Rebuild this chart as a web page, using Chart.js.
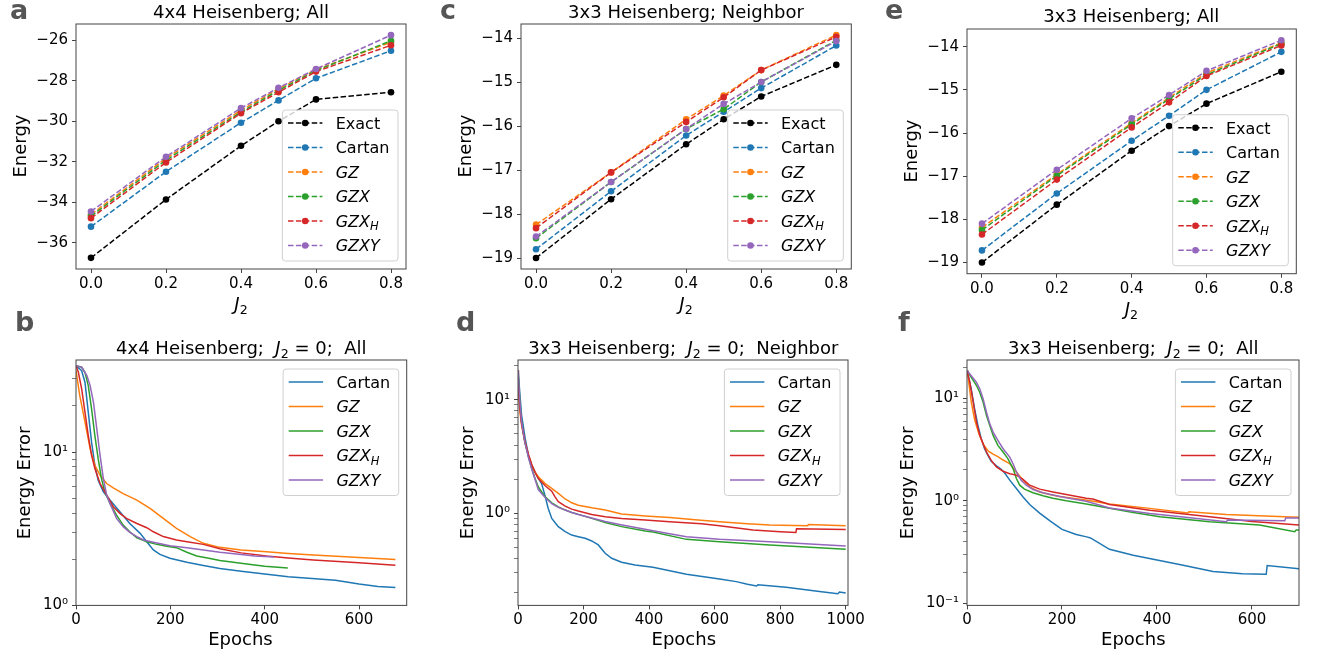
<!DOCTYPE html>
<html>
<head>
<meta charset="utf-8">
<script src="https://cdn.jsdelivr.net/npm/chart.js@4.4.1/dist/chart.umd.min.js"></script>
<style>
  html,body{margin:0;padding:0;background:#fff;}
  body{width:1319px;height:659px;position:relative;overflow:hidden;font-family:"DejaVu Sans",sans-serif;}
  canvas{position:absolute;z-index:1;}
  .t{position:absolute;white-space:nowrap;color:#000;line-height:1;z-index:2;}
  .sub{font-size:0.7em;position:relative;top:4px;}
  .lett{font-weight:bold;color:#555;}
</style>
</head>
<body>
<script>
// ---------------- DATA ----------------
const J2 = [0.0, 0.2, 0.4, 0.5, 0.6, 0.8];
const J2Ticks = [0.0, 0.2, 0.4, 0.6, 0.8];
const topNames = ['Exact', 'Cartan', 'GZ', 'GZX', 'GZX_H', 'GZXY'];
const botNames = ['Cartan', 'GZ', 'GZX', 'GZX_H', 'GZXY'];

// (a) 4x4 Heisenberg; All
const aExact  = [-36.74, -33.86, -31.21, -30.00, -28.92, -28.57];
const aCartan = [-35.20, -32.49, -30.07, -28.97, -27.88, -26.52];
const aGZ     = [-34.60, -31.83, -29.46, -28.40, -27.45, -26.10];
const aGZX    = [-34.68, -31.92, -29.54, -28.48, -27.50, -26.03];
const aGZXH   = [-34.78, -32.03, -29.60, -28.57, -27.55, -26.25];
const aGZXY   = [-34.45, -31.75, -29.35, -28.35, -27.42, -25.75];
const aYTicks = [-36, -34, -32, -30, -28, -26];

// (c) 3x3 Heisenberg; Neighbor
const cExact  = [-19.00, -17.66, -16.41, -15.84, -15.32, -14.60];
const cCartan = [-18.80, -17.48, -16.21, -15.67, -15.13, -14.16];
const cGZ     = [-18.24, -17.05, -15.84, -15.30, -14.72, -13.92];
const cGZX    = [-18.55, -17.27, -16.06, -15.61, -14.99, -14.04];
const cGZXH   = [-18.32, -17.05, -15.90, -15.34, -14.72, -13.96];
const cGZXY   = [-18.51, -17.27, -16.06, -15.49, -14.99, -14.06];
const cYTicks = [-19, -18, -17, -16, -15, -14];

// (e) 3x3 Heisenberg; All
const eExact  = [-19.00, -17.66, -16.41, -15.84, -15.32, -14.58];
const eCartan = [-18.72, -17.40, -16.18, -15.60, -15.00, -14.12];
const eGZ     = [-18.19, -16.96, -15.77, -15.18, -14.61, -13.91];
const eGZX    = [-18.25, -16.99, -15.80, -15.21, -14.65, -13.93];
const eGZXH   = [-18.35, -17.08, -15.87, -15.29, -14.68, -13.97];
const eGZXY   = [-18.10, -16.85, -15.66, -15.12, -14.56, -13.85];
const eYTicks = [-19, -18, -17, -16, -15, -14];

// (b) 4x4 Heisenberg; J2=0; All  (epochs / energy error)
const bCartanEp  = [0,12,19,26,33,40,47,58,72,93,114,136,150,164,178,199,235,270,305,350,400,450,500,550,600,640,677];
const bCartanErr = [36.5,33.9,28.5,18.2,11.6,8.2,6.55,5.5,4.86,4.08,3.42,2.95,2.6,2.3,2.15,2.03,1.91,1.82,1.74,1.67,1.6,1.54,1.5,1.46,1.38,1.33,1.31];
const bGZEp      = [0,8,19,30,40,51,65,79,100,129,157,185,213,242,270,305,350,404,450,503,600,677];
const bGZErr     = [33.9,23.3,15.7,10.5,8.2,7.05,6.23,5.84,5.36,4.86,4.29,3.69,3.18,2.81,2.54,2.39,2.3,2.24,2.18,2.13,2.05,1.99];
const bGZXEp     = [0,12,19,26,33,40,47,54,61,72,86,100,114,129,150,171,192,213,235,256,284,305,362,400,449];
const bGZXErr    = [36.5,35.7,33.1,27.1,19.1,12.8,9.05,6.71,5.5,4.62,3.88,3.34,3.02,2.76,2.6,2.5,2.43,2.38,2.22,2.1,2.02,1.96,1.86,1.8,1.75];
const bGZXHEp    = [0,5,12,19,26,33,40,51,65,79,93,107,129,150,164,185,213,242,270,305,350,404,450,503,600,677];
const bGZXHErr   = [36.5,33.1,25.8,18.2,12.8,9.5,7.8,6.23,5.23,4.4,3.98,3.69,3.42,3.21,3.02,2.81,2.67,2.58,2.5,2.34,2.2,2.1,2.04,1.98,1.9,1.83];
const bGZXYEp    = [0,12,23,30,37,44,51,58,65,75,86,100,114,129,143,164,199,235,270,305,350,379,420];
const bGZXYErr   = [36.5,35.7,31.5,27.1,21.1,14.2,9.5,6.71,5.23,4.4,3.69,3.26,2.99,2.81,2.67,2.58,2.45,2.38,2.3,2.22,2.15,2.1,2.07];
const bXTicks = [0, 200, 400, 600];
const bLogTicks = [1,2,3,4,5,6,7,8,9,10,20,30];

// (d) 3x3 Heisenberg; J2=0; Neighbor
const dCartanEp  = [0,1,6,11,22,32,42,52,62,72,82,92,103,123,144,164,184,205,225,245,266,286,316,357,412,514,615,666,700,728,732,818,920,976,981,1000];
const dCartanErr = [18.1,17.5,10.9,7.29,4.55,3.25,2.65,2.32,2.03,1.83,1.45,1.11,0.904,0.764,0.69,0.645,0.624,0.604,0.572,0.528,0.446,0.403,0.372,0.352,0.336,0.292,0.265,0.251,0.238,0.23,0.236,0.224,0.205,0.196,0.203,0.199];
const dGZEp      = [0,1,6,11,21,32,42,52,62,83,103,123,144,164,184,225,266,316,388,463,540,615,700,768,884,886,1000];
const dGZErr     = [18.1,11.7,7.8,5.96,4.25,3.25,2.65,2.32,2.1,1.83,1.66,1.5,1.34,1.24,1.18,1.12,1.07,0.99,0.95,0.92,0.88,0.845,0.81,0.789,0.78,0.8,0.78];
const dGZXEp     = [0,1,6,11,21,32,42,52,62,72,83,103,123,144,164,184,225,266,316,388,412,514,615,768,1000];
const dGZXErr    = [18.1,16.3,9.55,6.37,4.25,3.14,2.48,2.03,1.71,1.55,1.4,1.24,1.14,1.07,1.02,0.98,0.904,0.83,0.765,0.7,0.685,0.591,0.563,0.527,0.483];
const dGZXHEp    = [0,1,6,11,21,32,42,52,62,83,103,113,123,144,164,184,225,266,316,388,463,560,615,717,800,848,850,1000];
const dGZXHErr   = [18.1,13.4,8.34,6.16,4.31,3.29,2.69,2.29,2.03,1.75,1.57,1.4,1.27,1.16,1.09,1.05,0.98,0.935,0.9,0.874,0.845,0.81,0.78,0.714,0.69,0.68,0.733,0.72];
const dGZXYEp    = [0,1,6,11,21,32,42,52,62,72,83,103,123,144,164,184,225,266,310,412,514,615,768,1000];
const dGZXYErr   = [18.1,16.0,9.4,6.3,4.2,3.1,2.45,2.0,1.62,1.5,1.38,1.22,1.13,1.07,1.02,0.98,0.91,0.85,0.8,0.705,0.624,0.591,0.563,0.516];
const dXTicks = [0, 200, 400, 600, 800, 1000];
const dLogTicks = [0.2,0.3,0.4,0.5,0.6,0.7,0.8,0.9,1,2,3,4,5,6,7,8,9,10,20];

// (f) 3x3 Heisenberg; J2=0; All
const fCartanEp  = [0,2,9,16,23,30,37,44,51,62,72,79,90,104,118,132,153,174,200,230,252,260,300,350,400,450,518,580,630,632,700];
const fCartanErr = [18.6,17.2,12.3,7.88,5.43,4.03,3.22,2.77,2.43,2.19,2.03,1.88,1.59,1.32,1.09,0.92,0.76,0.64,0.527,0.47,0.445,0.435,0.337,0.295,0.265,0.238,0.205,0.195,0.192,0.234,0.217];
const fGZEp      = [0,2,9,16,25,35,45,55,65,76,90,104,118,132,153,174,195,230,260,300,385,465,467,546,669,700];
const fGZErr     = [18.6,16.6,9.15,6.2,4.5,3.5,3.05,2.85,2.7,2.5,2.3,1.91,1.59,1.37,1.22,1.15,1.1,1.05,1.0,0.93,0.844,0.76,0.782,0.736,0.699,0.69];
const fGZXEp     = [0,9,20,27,34,41,48,55,65,76,86,97,104,111,121,139,160,181,209,251,300,350,406,511,616,690,693,700];
const fGZXErr    = [18.6,16.0,13.3,11.4,9.15,6.79,5.43,4.34,3.47,2.99,2.58,2.06,1.65,1.42,1.3,1.2,1.12,1.06,1.0,0.93,0.845,0.77,0.7,0.625,0.58,0.5,0.52,0.52];
const fGZXHEp    = [0,6,13,20,27,34,41,51,62,76,90,104,118,132,153,181,209,251,265,300,385,511,600,700];
const fGZXHErr   = [18.6,14.3,9.15,5.85,4.34,3.6,2.99,2.48,2.14,1.94,1.84,1.78,1.62,1.42,1.3,1.22,1.15,1.06,1.04,0.92,0.81,0.7,0.63,0.58];
const fGZXYEp    = [0,9,20,27,34,41,48,55,65,76,90,97,104,114,125,139,160,181,209,251,300,385,450,546,549,669,671,700];
const fGZXYErr   = [18.6,16.6,14.3,12.3,9.86,7.31,5.63,4.68,3.88,3.22,2.67,2.3,1.91,1.59,1.42,1.29,1.2,1.14,1.07,0.99,0.85,0.753,0.7,0.625,0.65,0.64,0.68,0.68];
const fXTicks = [0, 200, 400, 600];
const fLogTicks = [0.1,0.2,0.3,0.4,0.5,0.6,0.7,0.8,0.9,1,2,3,4,5,6,7,8,9,10,20];

// ---------------- STYLE ----------------
const COLORS = {Exact:'#000000', Cartan:'#1f77b4', GZ:'#ff7f0e', GZX:'#2ca02c', GZX_H:'#d62728', GZXY:'#9467bd'};
const FRAME = '#444444';
const DASH = [5.5, 2.4];
const FONT = '"DejaVu Sans", sans-serif';
Chart.defaults.font.family = FONT;
Chart.defaults.color = '#000';

// Axes frame (all four spines)
const mplFrame = {
  id: 'mplFrame',
  afterDatasetsDraw(chart) {
    const {ctx, chartArea: a} = chart;
    ctx.save();
    ctx.strokeStyle = FRAME; ctx.lineWidth = 1;
    ctx.strokeRect(a.left, a.top, a.right - a.left, a.bottom - a.top);
    ctx.restore();
  }
};

// matplotlib-like legend inside the axes
const mplLegend = {
  id: 'mplLegend',
  afterDraw(chart, args, opts) {
    const {ctx, chartArea: a} = chart;
    const ds = chart.data.datasets;
    const n = ds.length;
    const W = 115.6, H = 13 + (n - 1) * 24.5 + 15.5;
    const x0 = a.right - 8 - W;
    const y0 = opts.corner === 'lower' ? a.bottom - 8 - H : a.top + 9;
    ctx.save();
    ctx.beginPath();
    ctx.roundRect(x0, y0, W, H, 3);
    ctx.fillStyle = 'rgba(255,255,255,0.8)'; ctx.fill();
    ctx.strokeStyle = '#d0d0d0'; ctx.lineWidth = 1; ctx.stroke();
    ds.forEach((d, i) => {
      const y = y0 + 13 + i * 24.5;
      ctx.strokeStyle = d.borderColor; ctx.lineWidth = 1.5;
      ctx.setLineDash(d.borderDash || []);
      ctx.beginPath(); ctx.moveTo(x0 + 5.6, y); ctx.lineTo(x0 + 40, y); ctx.stroke();
      ctx.setLineDash([]);
      if (d.pointRadius > 0) {
        ctx.fillStyle = d.borderColor; ctx.beginPath();
        ctx.arc(x0 + 22.8, y, d.pointRadius, 0, Math.PI * 2); ctx.fill();
      }
      const parts = d.label.split('_');
      const italic = d.label.startsWith('G');
      ctx.fillStyle = '#000'; ctx.textBaseline = 'alphabetic'; ctx.textAlign = 'left';
      ctx.font = (italic ? 'italic ' : '') + '16px ' + FONT;
      const tx = x0 + 53.3, by = y + 5.8;
      ctx.fillText(parts[0], tx, by);
      if (parts[1]) {
        const w = ctx.measureText(parts[0]).width;
        ctx.font = 'italic 11.5px ' + FONT;
        ctx.fillText(parts[1], tx + w, by + 3.5);
      }
    });
    ctx.restore();
  }
};

const SUP = {'1':'10\u2070', '10':'10\u00b9', '0.1':'10\u207b\u00b9'};

function makeCanvas(rect) {
  const L = rect.l - 72, T = rect.t - 12, R = rect.r + 20, B = rect.b + 40;
  const c = document.createElement('canvas');
  c.width = Math.round(R - L); c.height = Math.round(B - T);
  c.style.left = L + 'px'; c.style.top = T + 'px';
  c.style.width = c.width + 'px'; c.style.height = c.height + 'px';
  document.body.appendChild(c);
  return {c, padTop: 12, padRight: c.width - (rect.r - L), yW: 72, xH: c.height - (rect.b - T)};
}

function tickGrid() {
  return {display: true, drawOnChartArea: false, drawTicks: true, tickLength: 4,
          tickColor: FRAME, tickWidth: (ctx) => (ctx.tick && ctx.tick.major === false ? 0.7 : 1)};
}

function buildChart(rect, cfg) {
  const m = makeCanvas(rect);
  return new Chart(m.c, {
    type: 'line',
    data: {datasets: cfg.datasets},
    options: {
      responsive: false, animation: false, devicePixelRatio: 1, events: [],
      layout: {padding: {top: m.padTop, right: m.padRight, left: 0, bottom: 0}},
      plugins: {legend: {display: false}, tooltip: {enabled: false}, title: {display: false},
                mplLegend: {corner: cfg.corner}},
      scales: {
        x: {
          type: 'linear', min: cfg.xMin, max: cfg.xMax,
          afterFit: (s) => { s.height = m.xH; },
          afterBuildTicks: (s) => { s.ticks = cfg.xTicks.map(v => ({value: v})); },
          ticks: {callback: cfg.xFmt, font: {size: 15}, color: '#000', padding: 2, maxRotation: 0, autoSkip: false},
          grid: tickGrid(), border: {display: false}
        },
        y: {
          type: cfg.yType, min: cfg.yMin, max: cfg.yMax,
          afterFit: (s) => { s.width = m.yW; },
          afterBuildTicks: (s) => { s.ticks = cfg.yTicks.map(v => ({value: v, major: cfg.yMajor(v)})); },
          ticks: {callback: cfg.yFmt, font: {size: 15}, color: '#000', padding: 4, autoSkip: false},
          grid: tickGrid(), border: {display: false}
        }
      }
    },
    plugins: [mplFrame, mplLegend]
  });
}

function topSets(arrs) {
  return topNames.map((name, i) => ({
    label: name, data: J2.map((x, k) => ({x, y: arrs[i][k]})),
    borderColor: COLORS[name], backgroundColor: COLORS[name], pointBackgroundColor: COLORS[name],
    borderWidth: 1.5, borderDash: DASH, pointRadius: 3.3, pointBorderWidth: 0, pointHoverRadius: 0,
    tension: 0, fill: false, order: topNames.length - i
  }));
}
function botSets(eps, errs) {
  return botNames.map((name, i) => ({
    label: name, data: eps[i].map((x, k) => ({x, y: errs[i][k]})),
    borderColor: COLORS[name], backgroundColor: COLORS[name],
    borderWidth: 1.5, pointRadius: 0, pointHoverRadius: 0, tension: 0, fill: false, order: botNames.length - i
  }));
}
const minus = (v) => String(v).replace('-', '\u2212');
const j2fmt = (v) => Number(v).toFixed(1);
const epfmt = (v) => String(v);
const logfmt = (v) => SUP[String(v)] || '';
const isPow = (v) => ['1', '10', '0.1'].includes(String(v));

// Panel rectangles (plot areas)
const R = {
  a: {l: 76,    t: 23,    r: 406,    b: 269},
  c: {l: 520.7, t: 23,    r: 851,    b: 269},
  e: {l: 966.7, t: 28.3,  r: 1296,   b: 274},
  b: {l: 76,    t: 359.3, r: 406.7,  b: 605.7},
  d: {l: 518.3, t: 359.3, r: 848.3,  b: 605.7},
  f: {l: 967.3, t: 359.3, r: 1299.3, b: 605.7}
};

buildChart(R.a, {datasets: topSets([aExact, aCartan, aGZ, aGZX, aGZXH, aGZXY]), corner: 'lower',
  xMin: -0.04, xMax: 0.84, xTicks: J2Ticks, xFmt: j2fmt,
  yType: 'linear', yMin: -37.29, yMax: -25.2, yTicks: aYTicks, yFmt: minus, yMajor: () => true});
buildChart(R.c, {datasets: topSets([cExact, cCartan, cGZ, cGZX, cGZXH, cGZXY]), corner: 'lower',
  xMin: -0.04, xMax: 0.84, xTicks: J2Ticks, xFmt: j2fmt,
  yType: 'linear', yMin: -19.25, yMax: -13.67, yTicks: cYTicks, yFmt: minus, yMajor: () => true});
buildChart(R.e, {datasets: topSets([eExact, eCartan, eGZ, eGZX, eGZXH, eGZXY]), corner: 'lower',
  xMin: -0.04, xMax: 0.84, xTicks: J2Ticks, xFmt: j2fmt,
  yType: 'linear', yMin: -19.26, yMax: -13.59, yTicks: eYTicks, yFmt: minus, yMajor: () => true});

buildChart(R.b, {datasets: botSets([bCartanEp, bGZEp, bGZXEp, bGZXHEp, bGZXYEp], [bCartanErr, bGZErr, bGZXErr, bGZXHErr, bGZXYErr]), corner: 'upper',
  xMin: 0, xMax: 701, xTicks: bXTicks, xFmt: epfmt,
  yType: 'logarithmic', yMin: 1, yMax: 39.8, yTicks: bLogTicks, yFmt: logfmt, yMajor: isPow});
buildChart(R.d, {datasets: botSets([dCartanEp, dGZEp, dGZXEp, dGZXHEp, dGZXYEp], [dCartanErr, dGZErr, dGZXErr, dGZXHErr, dGZXYErr]), corner: 'upper',
  xMin: 0, xMax: 1007, xTicks: dXTicks, xFmt: epfmt,
  yType: 'logarithmic', yMin: 0.155, yMax: 22.4, yTicks: dLogTicks, yFmt: logfmt, yMajor: isPow});
buildChart(R.f, {datasets: botSets([fCartanEp, fGZEp, fGZXEp, fGZXHEp, fGZXYEp], [fCartanErr, fGZErr, fGZXErr, fGZXHErr, fGZXYErr]), corner: 'upper',
  xMin: 0, xMax: 699, xTicks: fXTicks, xFmt: epfmt,
  yType: 'logarithmic', yMin: 0.0956, yMax: 23.6, yTicks: fLogTicks, yFmt: logfmt, yMajor: isPow});

// ---------------- TEXT ----------------
function txt(html, x, base, size, cls, center) {
  const d = document.createElement('div');
  d.className = 't' + (cls ? ' ' + cls : '');
  d.innerHTML = html;
  d.style.fontSize = size + 'px';
  d.style.left = x + 'px';
  d.style.top = (base - 0.846 * size) + 'px';
  if (center) d.style.transform = 'translateX(-50%)';
  document.body.appendChild(d);
}
function vtxt(html, cx, cy, size) {
  const d = document.createElement('div');
  d.className = 't'; d.innerHTML = html;
  d.style.fontSize = size + 'px';
  d.style.left = cx + 'px'; d.style.top = cy + 'px';
  d.style.transform = 'translate(-50%,-50%) rotate(-90deg)';
  document.body.appendChild(d);
}
const J = '<i>J</i><span class="sub">2</span>';

txt('4x4 Heisenberg; All', 241, 18.3, 18, '', true);
txt('3x3 Heisenberg; Neighbor', 686, 18.3, 18, '', true);
txt('3x3 Heisenberg; All', 1131.3, 22.7, 18, '', true);
txt('4x4 Heisenberg;&nbsp; ' + J + ' = 0;&nbsp; All', 241.3, 354, 18, '', true);
txt('3x3 Heisenberg;&nbsp; ' + J + ' = 0;&nbsp; Neighbor', 683.3, 354, 18, '', true);
txt('3x3 Heisenberg;&nbsp; ' + J + ' = 0;&nbsp; All', 1133.3, 354, 18, '', true);

txt(J, 241, 310, 18, '', true);
txt(J, 686, 310, 18, '', true);
txt(J, 1131.3, 315, 18, '', true);
txt('Epochs', 240.5, 644.8, 18, '', true);
txt('Epochs', 683.8, 644.8, 18, '', true);
txt('Epochs', 1133.3, 644.8, 18, '', true);

vtxt('Energy', 20, 146, 18);
vtxt('Energy', 465, 146, 18);
vtxt('Energy', 911, 151, 18);
vtxt('Energy Error', 24, 482.5, 18);
vtxt('Energy Error', 467, 482.5, 18);
vtxt('Energy Error', 907, 482.5, 18);

txt('a', 10, 18.5, 27, 'lett');
txt('c', 440, 18.5, 27, 'lett');
txt('e', 885, 19, 27, 'lett');
txt('b', 15, 331, 27, 'lett');
txt('d', 456, 331, 27, 'lett');
txt('f', 898, 331, 27, 'lett');
</script>
</body>
</html>
